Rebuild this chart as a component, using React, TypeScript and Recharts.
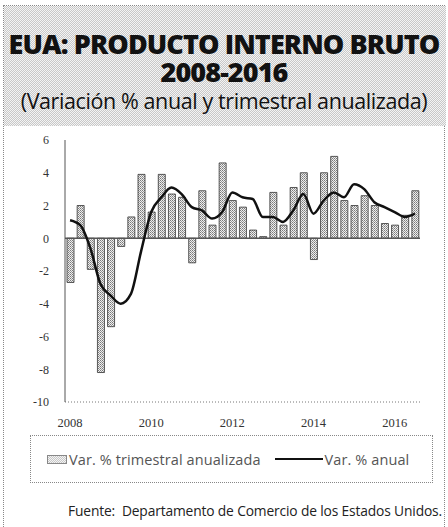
import {
  Bar,
  ComposedChart,
  Line,
  ReferenceLine,
  XAxis,
  YAxis,
} from "recharts";

// trimestres 2008 I - 2016 III
const periodos = [
  "2008 I", "2008 II", "2008 III", "2008 IV",
  "2009 I", "2009 II", "2009 III", "2009 IV",
  "2010 I", "2010 II", "2010 III", "2010 IV",
  "2011 I", "2011 II", "2011 III", "2011 IV",
  "2012 I", "2012 II", "2012 III", "2012 IV",
  "2013 I", "2013 II", "2013 III", "2013 IV",
  "2014 I", "2014 II", "2014 III", "2014 IV",
  "2015 I", "2015 II", "2015 III", "2015 IV",
  "2016 I", "2016 II", "2016 III",
];

const varTrimestral = [
  -2.7, 2.0, -1.9, -8.2,
  -5.4, -0.5, 1.3, 3.9,
  1.6, 3.9, 2.7, 2.5,
  -1.5, 2.9, 0.8, 4.6,
  2.3, 1.9, 0.5, 0.1,
  2.8, 0.8, 3.1, 4.0,
  -1.3, 4.0, 5.0, 2.3,
  2.0, 2.6, 2.0, 0.9,
  0.8, 1.4, 2.9,
];

const varAnual = [
  1.1, 0.8, -0.6, -2.8,
  -3.5, -4.0, -3.4, -0.8,
  1.6, 2.5, 3.1, 2.7,
  1.9, 1.7, 1.2, 1.6,
  2.8, 2.5, 2.4, 1.3,
  1.3, 1.0, 1.7, 2.7,
  1.5, 2.3, 2.8, 2.5,
  3.3, 3.0, 2.2, 1.9,
  1.6, 1.3, 1.5,
];

const yTicks = [-10, -8, -6, -4, -2, 0, 2, 4, 6];

const data = periodos.map((periodo, i) => ({
  periodo,
  trimestral: varTrimestral[i],
  anual: varAnual[i],
}));

const sans = "'Open Sans', 'Noto Sans', sans-serif";
const serif = "'Liberation Serif', 'DejaVu Serif', serif";

const trama =
  "repeating-conic-gradient(#c8c8c8 0 25%, #f4f4f4 0 50%) 0 0 / 2px 2px";

const titulo = {
  position: "absolute" as const,
  left: 0,
  width: 448,
  textAlign: "center" as const,
  fontWeight: 800,
  fontSize: 27,
  letterSpacing: -0.9,
  lineHeight: "26px",
  color: "#111",
  whiteSpace: "nowrap" as const,
};

export default function App() {
  return (
    <div
      style={{
        position: "fixed",
        left: 0,
        top: 0,
        width: 448,
        height: 527,
        background: "#fff",
        overflow: "hidden",
        fontFamily: sans,
      }}
    >
      {/* marco punteado */}
      <div
        style={{
          position: "absolute",
          left: 3,
          top: 5,
          width: 442,
          height: 530,
          border: "1px dotted #888",
          boxSizing: "border-box",
        }}
      />
      {/* encabezado con trama */}
      <div
        style={{
          position: "absolute",
          left: 4,
          top: 6,
          width: 442,
          height: 120,
          background: trama,
        }}
      />
      <div style={{ ...titulo, top: 31 }}>EUA: PRODUCTO INTERNO BRUTO</div>
      <div style={{ ...titulo, top: 59 }}>2008-2016</div>
      <div
        style={{
          position: "absolute",
          left: 0,
          top: 89,
          width: 448,
          textAlign: "center",
          fontSize: 21.5,
          letterSpacing: -0.4,
          lineHeight: "24px",
          color: "#111",
          whiteSpace: "nowrap",
        }}
      >
        (Variación % anual y trimestral anualizada)
      </div>

      <div style={{ position: "absolute", left: 0, top: 130 }}>
        <ComposedChart
          width={448}
          height={300}
          data={data}
          margin={{ top: 10, right: 28, bottom: 0, left: 0 }}
        >
          <defs>
            <pattern id="trama" width="2" height="2" patternUnits="userSpaceOnUse">
              <rect width="2" height="2" fill="#eeeeee" />
              <rect width="1" height="1" fill="#7a7a7a" />
              <rect x="1" y="1" width="1" height="1" fill="#9a9a9a" />
            </pattern>
          </defs>
          <XAxis
            dataKey="periodo"
            interval={7}
            height={28}
            tickLine={false}
            tickMargin={10}
            tickFormatter={(v: string) => v.slice(0, 4)}
            axisLine={{ stroke: "#777", strokeDasharray: "1 2" }}
            tick={{ fontFamily: serif, fontSize: 12.5, fill: "#333" }}
          />
          <XAxis
            xAxisId="top"
            dataKey="periodo"
            orientation="top"
            height={0}
            tick={false}
            tickLine={false}
            axisLine={{ stroke: "#444" }}
          />
          <YAxis
            domain={[-10, 6]}
            ticks={yTicks}
            width={65}
            tickLine={false}
            tickMargin={10}
            axisLine={{ stroke: "#555" }}
            tick={{ fontFamily: serif, fontSize: 12, fill: "#333" }}
          />
          <YAxis
            yAxisId="der"
            orientation="right"
            domain={[-10, 6]}
            width={0}
            tick={false}
            tickLine={false}
            axisLine={{ stroke: "#888", strokeDasharray: "1 3" }}
          />
          <ReferenceLine y={0} stroke="#555" strokeWidth={1.5} />
          <Bar
            dataKey="trimestral"
            fill="url(#trama)"
            stroke="#333"
            strokeWidth={0.8}
            barSize={7}
            isAnimationActive={false}
          />
          <Line
            dataKey="anual"
            type="monotone"
            stroke="#111"
            strokeWidth={2.5}
            dot={false}
            isAnimationActive={false}
          />
        </ComposedChart>
      </div>

      {/* leyenda */}
      <div
        style={{
          position: "absolute",
          left: 30,
          top: 435,
          width: 403,
          height: 48,
          border: "1px dotted #888",
          boxSizing: "border-box",
          display: "flex",
          alignItems: "center",
          fontSize: 14.5,
          letterSpacing: 0.1,
          color: "#555",
          whiteSpace: "nowrap",
        }}
      >
        <span
          style={{
            display: "inline-block",
            marginLeft: 16,
            width: 18,
            height: 7,
            border: "1px solid #888",
            background: trama,
            marginRight: 2,
          }}
        />
        <span>Var. % trimestral anualizada</span>
        <span
          style={{
            display: "inline-block",
            marginLeft: 14,
            width: 48,
            height: 0,
            borderTop: "2px solid #111",
            marginRight: 2,
          }}
        />
        <span>Var. % anual</span>
      </div>

      <div
        style={{
          position: "absolute",
          left: 68,
          top: 501,
          width: 378,
          fontSize: 13.8,
          letterSpacing: -0.15,
          color: "#222",
          whiteSpace: "nowrap",
        }}
      >
        Fuente:&nbsp; Departamento de Comercio de los Estados Unidos.
      </div>
    </div>
  );
}
